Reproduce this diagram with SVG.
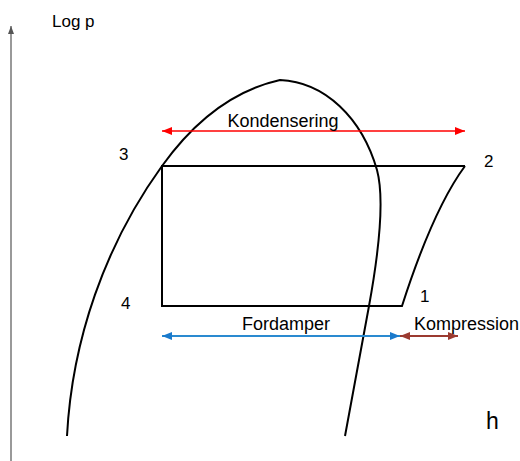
<svg xmlns="http://www.w3.org/2000/svg" width="520" height="461" viewBox="0 0 520 461">
<style>
.t{font-family:"Liberation Sans",Arial,sans-serif;fill:#000}
.c{fill:none;stroke:#000;stroke-width:2}
.n{font-size:17px}
</style>
<defs>
<marker id="ar" markerWidth="10" markerHeight="8" refX="10" refY="4" orient="auto-start-reverse" markerUnits="userSpaceOnUse"><path d="M0,0 L10,4 L0,8 Z" fill="#ff0000"/></marker>
<marker id="ab" markerWidth="10" markerHeight="8" refX="10" refY="4" orient="auto-start-reverse" markerUnits="userSpaceOnUse"><path d="M0,0 L10,4 L0,8 Z" fill="#1a7acc"/></marker>
<marker id="am" markerWidth="10" markerHeight="8" refX="10" refY="4" orient="auto-start-reverse" markerUnits="userSpaceOnUse"><path d="M0,0 L10,4 L0,8 Z" fill="#9b3a30"/></marker>
<marker id="ag" markerWidth="6" markerHeight="8" refX="3" refY="0" orient="0" markerUnits="userSpaceOnUse"><path d="M0,8 L3,0 L6,8 Z" fill="#555"/></marker>
</defs>
<g id="axis">
<line x1="11" y1="461" x2="11" y2="26" stroke="#777" stroke-width="1.5" marker-end="url(#ag)"/>
<text class="t" x="52" y="27" font-size="17">Log p</text>
<text class="t" x="486" y="429" font-size="23">h</text>
</g>
<g id="dome">
<path class="c" d="M67,436 C72,340 105,245 162,166 C195,120 235,90 280,80 C325,82 362,118 377,170 C384,196 381,240 369,306 L345,436"/>
</g>
<g id="cycle">
<path class="c" d="M465,166 L162,166 L162,306 L402,306 C420,250 440,200 465,166"/>
</g>
<g id="connectors">
<line x1="162" y1="131" x2="465" y2="131" stroke="#ff0000" stroke-width="1.5" marker-start="url(#ar)" marker-end="url(#ar)"/>
<line x1="162" y1="336" x2="400" y2="336" stroke="#2a8ad0" stroke-width="2" marker-start="url(#ab)" marker-end="url(#ab)"/>
<line x1="400" y1="336" x2="458" y2="336" stroke="#9b3a30" stroke-width="2" marker-start="url(#am)" marker-end="url(#am)"/>
</g>
<g id="labels">
<text class="t" x="283" y="127" font-size="18" text-anchor="middle">Kondensering</text>
<text class="t" x="286" y="330" font-size="18" text-anchor="middle">Fordamper</text>
<text class="t" x="414" y="330" font-size="18">Kompression</text>
<text class="t n" x="119" y="160">3</text>
<text class="t n" x="484" y="167">2</text>
<text class="t n" x="121" y="309">4</text>
<text class="t n" x="420" y="302">1</text>
</g>
</svg>
